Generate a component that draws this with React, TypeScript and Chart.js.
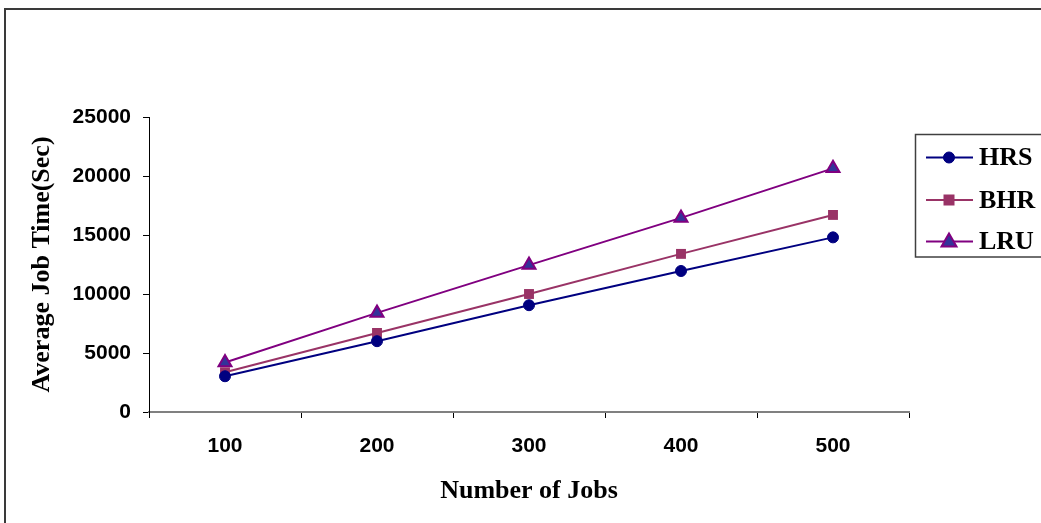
import React, { useEffect, useRef } from "react";
import { Chart, registerables } from "chart.js";

Chart.register(...registerables);

const categories = ["100", "200", "300", "400", "500"];
const hrsValues = [3030, 6000, 9050, 11950, 14800];
const bhrValues = [3370, 6700, 10000, 13400, 16700];
const lruValues = [4190, 8400, 12450, 16450, 20650];
const seriesNames = ["HRS", "BHR", "LRU"];
const xTitle = "Number of Jobs";
const yTitle = "Average Job Time(Sec)";

const HRS_COLOR = "#000080";
const BHR_COLOR = "#993366";
const LRU_COLOR = "#800080";
const LRU_FILL = "#333399";

const frameAndLegend = {
  id: "frameAndLegend",
  afterDraw(chart: any) {
    const ctx = chart.ctx;
    ctx.save();
    // outer frame
    ctx.strokeStyle = "#3a3a3a";
    ctx.lineWidth = 2;
    ctx.strokeRect(5, 9, 1100, 600);
    // legend box
    const bx = 915.5, by = 134.5, bw = 140, bh = 122.5;
    ctx.fillStyle = "#ffffff";
    ctx.fillRect(bx, by, bw, bh);
    ctx.strokeStyle = "#404040";
    ctx.lineWidth = 1.5;
    ctx.strokeRect(bx, by, bw, bh);
    const ys = [157.5, 200, 241.5];
    chart.data.datasets.forEach((ds: any, i: number) => {
      const y = ys[i];
      ctx.strokeStyle = ds.borderColor;
      ctx.lineWidth = 2;
      ctx.beginPath();
      ctx.moveTo(926, y);
      ctx.lineTo(973, y);
      ctx.stroke();
      ctx.fillStyle = ds.pointBackgroundColor;
      ctx.strokeStyle = ds.pointBorderColor;
      ctx.lineWidth = ds.pointBorderWidth;
      const cx = 949;
      if (ds.pointStyle === "circle") {
        ctx.beginPath();
        ctx.arc(cx, y, 5.5, 0, Math.PI * 2);
        ctx.fill();
        ctx.stroke();
      } else if (ds.pointStyle === "rect") {
        ctx.fillRect(cx - 5.5, y - 5.5, 11, 11);
      } else {
        ctx.beginPath();
        ctx.moveTo(cx, y - 8);
        ctx.lineTo(cx + 7.5, y + 5);
        ctx.lineTo(cx - 7.5, y + 5);
        ctx.closePath();
        ctx.fill();
        ctx.stroke();
      }
      ctx.fillStyle = "#000";
      ctx.font = "bold 26px 'Liberation Serif', 'Times New Roman', serif";
      ctx.textAlign = "left";
      ctx.textBaseline = "middle";
      ctx.fillText(ds.label, 979, y + 1);
    });
    ctx.restore();
  },
};

export default function App() {
  const ref = useRef<HTMLCanvasElement | null>(null);
  useEffect(() => {
    document.body.style.margin = "0";
    const canvas = ref.current;
    if (!canvas) return;
    const chart = new Chart(canvas, {
      type: "line",
      data: {
        labels: categories,
        datasets: [
          {
            label: seriesNames[0],
            data: hrsValues,
            borderColor: HRS_COLOR,
            backgroundColor: HRS_COLOR,
            borderWidth: 2,
            pointStyle: "circle",
            pointRadius: 5.5,
            pointBackgroundColor: HRS_COLOR,
            pointBorderColor: HRS_COLOR,
            pointBorderWidth: 1,
          },
          {
            label: seriesNames[1],
            data: bhrValues,
            borderColor: BHR_COLOR,
            backgroundColor: BHR_COLOR,
            borderWidth: 2,
            pointStyle: "rect",
            pointRadius: 7,
            pointBackgroundColor: BHR_COLOR,
            pointBorderColor: BHR_COLOR,
            pointBorderWidth: 0,
          },
          {
            label: seriesNames[2],
            data: lruValues,
            borderColor: LRU_COLOR,
            backgroundColor: LRU_FILL,
            borderWidth: 2,
            pointStyle: "triangle",
            pointRadius: 7.5,
            pointBackgroundColor: LRU_FILL,
            pointBorderColor: LRU_COLOR,
            pointBorderWidth: 2,
          },
        ] as any,
      },
      options: {
        animation: false,
        responsive: false,
        devicePixelRatio: 1,
        layout: { padding: { left: 0, right: 132, top: 117, bottom: 0 } },
        plugins: {
          legend: { display: false },
          tooltip: { enabled: false },
        },
        elements: { line: { tension: 0 } },
        scales: {
          x: {
            type: "category",
            offset: true,
            grid: {
              offset: true,
              drawOnChartArea: false,
              drawTicks: true,
              tickLength: 6,
              color: "#000",
            },
            border: { display: true, color: "#808080", width: 2 },
            ticks: {
              color: "#000",
              padding: 16,
              font: { family: "'Liberation Sans', Arial, sans-serif", size: 21, weight: "bold" },
              maxRotation: 0,
            },
            title: {
              display: true,
              text: xTitle,
              color: "#000",
              font: { family: "'Liberation Serif', 'Times New Roman', serif", size: 26, weight: "bold" },
              padding: { top: 0, bottom: 16 },
            },
            afterFit: (scale: any) => {
              scale.height = 111;
            },
          },
          y: {
            min: 0,
            max: 25000,
            ticks: {
              stepSize: 5000,
              color: "#000",
              padding: 12,
              font: { family: "'Liberation Sans', Arial, sans-serif", size: 21, weight: "bold" },
              callback: (v: any) => String(v),
            },
            grid: {
              drawOnChartArea: false,
              drawTicks: true,
              tickLength: 6,
              color: "#000",
            },
            border: { display: true, color: "#000", width: 1 },
            title: {
              display: true,
              text: yTitle,
              color: "#000",
              font: { family: "'Liberation Serif', 'Times New Roman', serif", size: 26, weight: "bold" },
              padding: { top: 27, bottom: 0 },
            },
            afterFit: (scale: any) => {
              scale.width = 149;
            },
          },
        },
      },
      plugins: [frameAndLegend],
    });
    return () => chart.destroy();
  }, []);
  return (
    <div style={{ position: "absolute", left: 0, top: 0, width: 1041, height: 523, background: "#fff" }}>
      <canvas ref={ref} width={1041} height={523} style={{ display: "block" }} />
    </div>
  );
}
